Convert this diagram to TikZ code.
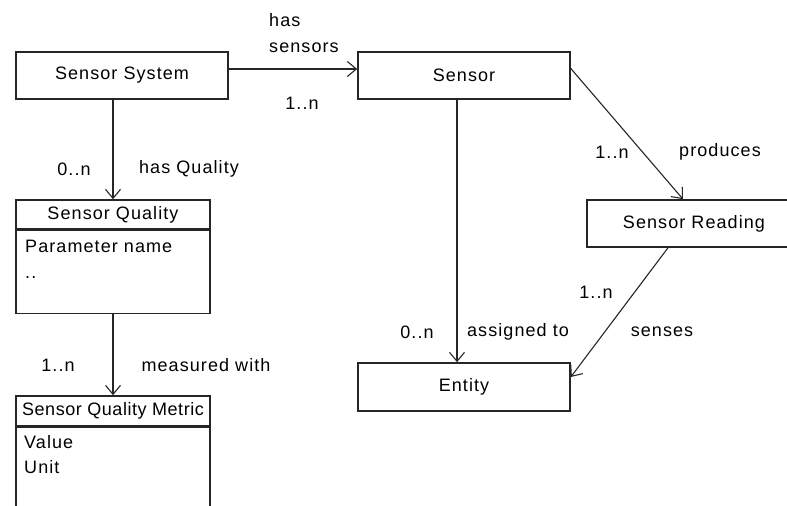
\documentclass[tikz,border=0pt]{standalone}
\usepackage{fontspec}
\setmainfont{Liberation Sans}[LetterSpace=6]
\usepackage{tikz}
\usetikzlibrary{arrows.meta, positioning}

\begin{document}
\begin{tikzpicture}[x=1bp, y=-1bp, font=\fontsize{18bp}{26bp}\selectfont]
		\tikzstyle{box} = [draw=black!85, line width=1.6bp, rectangle, inner sep=0pt, minimum height=47bp]
		\tikzstyle{attr} = [anchor=north west, align=left, inner sep=0pt, font=\fontsize{18bp}{25.5bp}\selectfont]
		\tikzstyle{lbl} = [inner sep=0pt]
		\tikzstyle{arrow} = [draw=black!85, line width=1.1bp, -{Straight Barb[length=9bp, width=15bp]}]

		\useasboundingbox (0,0) rectangle (787,506);
		\clip (0,0) rectangle (787,506);

		\node[box, minimum width=212bp]	at (122, 75.5)	(ss)		{Sensor System};
		\node[box, minimum width=212bp]	at (464, 75.5)	(sensor)	{Sensor};
		\node[box, minimum width=214bp]	at (694, 223.5)	(reading)	{Sensor Reading};
		\node[box, minimum width=212bp, minimum height=48bp] at (464, 387) (entity) {Entity};

		% class boxes with a compartment
		\node[box, minimum width=194bp, minimum height=29bp]	at (113, 214.5)	(sq)	{Sensor Quality};
		\node[box, minimum width=194bp, minimum height=83bp, below=0pt of sq]	(sqbody)	{};
		\node[attr]	at (25, 240)	(sqattr)	{Parameter name\\..};

		\node[box, minimum width=194bp, minimum height=30bp]	at (113, 411)	(sqm)	{\addfontfeatures{LetterSpace=3}Sensor Quality Metric};
		\node[box, minimum width=194bp, minimum height=100bp, below=0pt of sqm]	(sqmbody)	{};
		\node[attr]	at (24, 435)	(sqmattr)	{Value\\Unit};

		\draw [arrow] ([yshift=6.5bp]ss.east) -- ([yshift=6.5bp]sensor.west);
		\draw [arrow] (ss.south -| sq.north) -- (sq.north);
		\draw [arrow] (sqbody.south) -- (sqm.north);
		\draw [arrow] ([xshift=-7bp]sensor.south) -- ([xshift=-7bp]entity.north);
		\draw [arrow] ([yshift=7bp]sensor.east) -- ([xshift=-11bp]reading.north);
		\draw [arrow] ([xshift=-26bp]reading.south) -- ([yshift=10bp]entity.east);

		\node[lbl, align=left, anchor=west]	at (269, 33)	(hassensors)	{has\\sensors};
		\node[lbl]	at (302, 103)	(cardsensors)	{1..n};
		\node[lbl]	at (74, 169)	(cardquality)	{0..n};
		\node[lbl]	at (189, 169)	(hasquality)	{has Quality};
		\node[lbl]	at (58, 365)	(cardmetric)	{1..n};
		\node[lbl]	at (206, 365)	(measured)		{measured with};
		\node[lbl]	at (612, 152)	(cardreading)	{1..n};
		\node[lbl]	at (720, 152)	(produces)		{produces};
		\node[lbl]	at (596, 292)	(cardsenses)	{1..n};
		\node[lbl]	at (662, 332)	(senses)		{senses};
		\node[lbl]	at (417, 332)	(cardentity)	{0..n};
		\node[lbl]	at (518, 332)	(assigned)		{assigned to};
	\end{tikzpicture}
\end{document}
